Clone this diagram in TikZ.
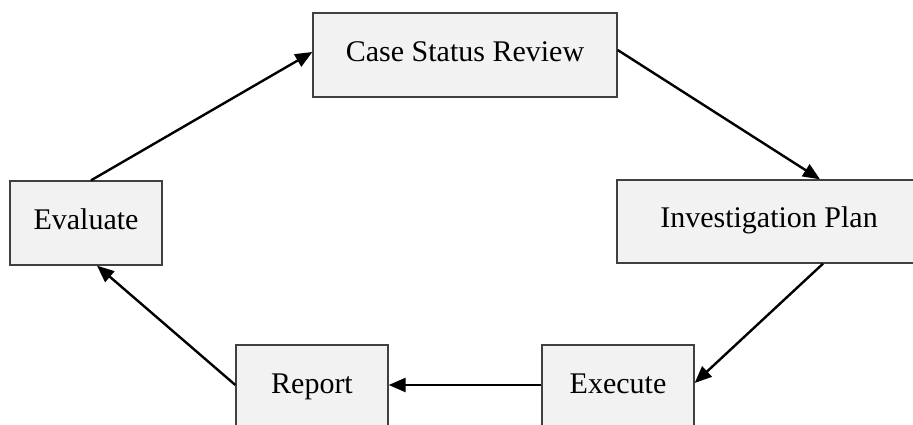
\documentclass[tikz,border=0pt]{standalone}
\usepackage{fontspec}
\setmainfont{Liberation Serif}
\usetikzlibrary{arrows.meta,calc}
\definecolor{boxfill}{HTML}{F2F2F2}
\definecolor{boxline}{HTML}{404040}
\begin{document}
\begin{tikzpicture}[x=1pt,y=-1pt,
  stepbox/.style={draw=boxline,line width=1.3pt,fill=boxfill,inner sep=0pt,
    text height=20pt,text depth=8pt,
    font=\fontsize{30}{36}\selectfont},
  flow/.style={line width=2.4pt,-{Triangle[length=17pt,width=14pt]}}]
\useasboundingbox (0,0) rectangle (913,424);
\clip (0,0) rectangle (913,424);
\fill[white] (0,0) rectangle (913,424);
\node[stepbox,minimum width=304pt,minimum height=84pt] (cs) at (465,55) {Case Status Review};
\node[stepbox,minimum width=152pt,minimum height=84pt] (ev) at (86,223) {Evaluate};
\node[stepbox,minimum width=304pt,minimum height=83pt] (ip) at (769,221.5) {Investigation Plan};
\node[stepbox,minimum width=152pt,minimum height=84pt] (rp) at (312,387) {Report};
\node[stepbox,minimum width=152pt,minimum height=84pt] (ex) at (618,387) {Execute};
\draw[flow] ($(ev.north)+(5,0)$) -- ($(cs.west)+(0,-3)$);
\draw[flow] ($(cs.east)+(0,-5)$) -- ($(ip.north)+(51,0)$);
\draw[flow] ($(ip.south)+(54,0)$) -- ($(ex.east)+(0,-4)$);
\draw[flow] ($(ex.west)+(0,-2)$) -- ($(rp.east)+(0,-2)$);
\draw[flow] ($(rp.west)+(0,-2)$) -- ($(ev.south)+(11,0)$);
\end{tikzpicture}
\end{document}
